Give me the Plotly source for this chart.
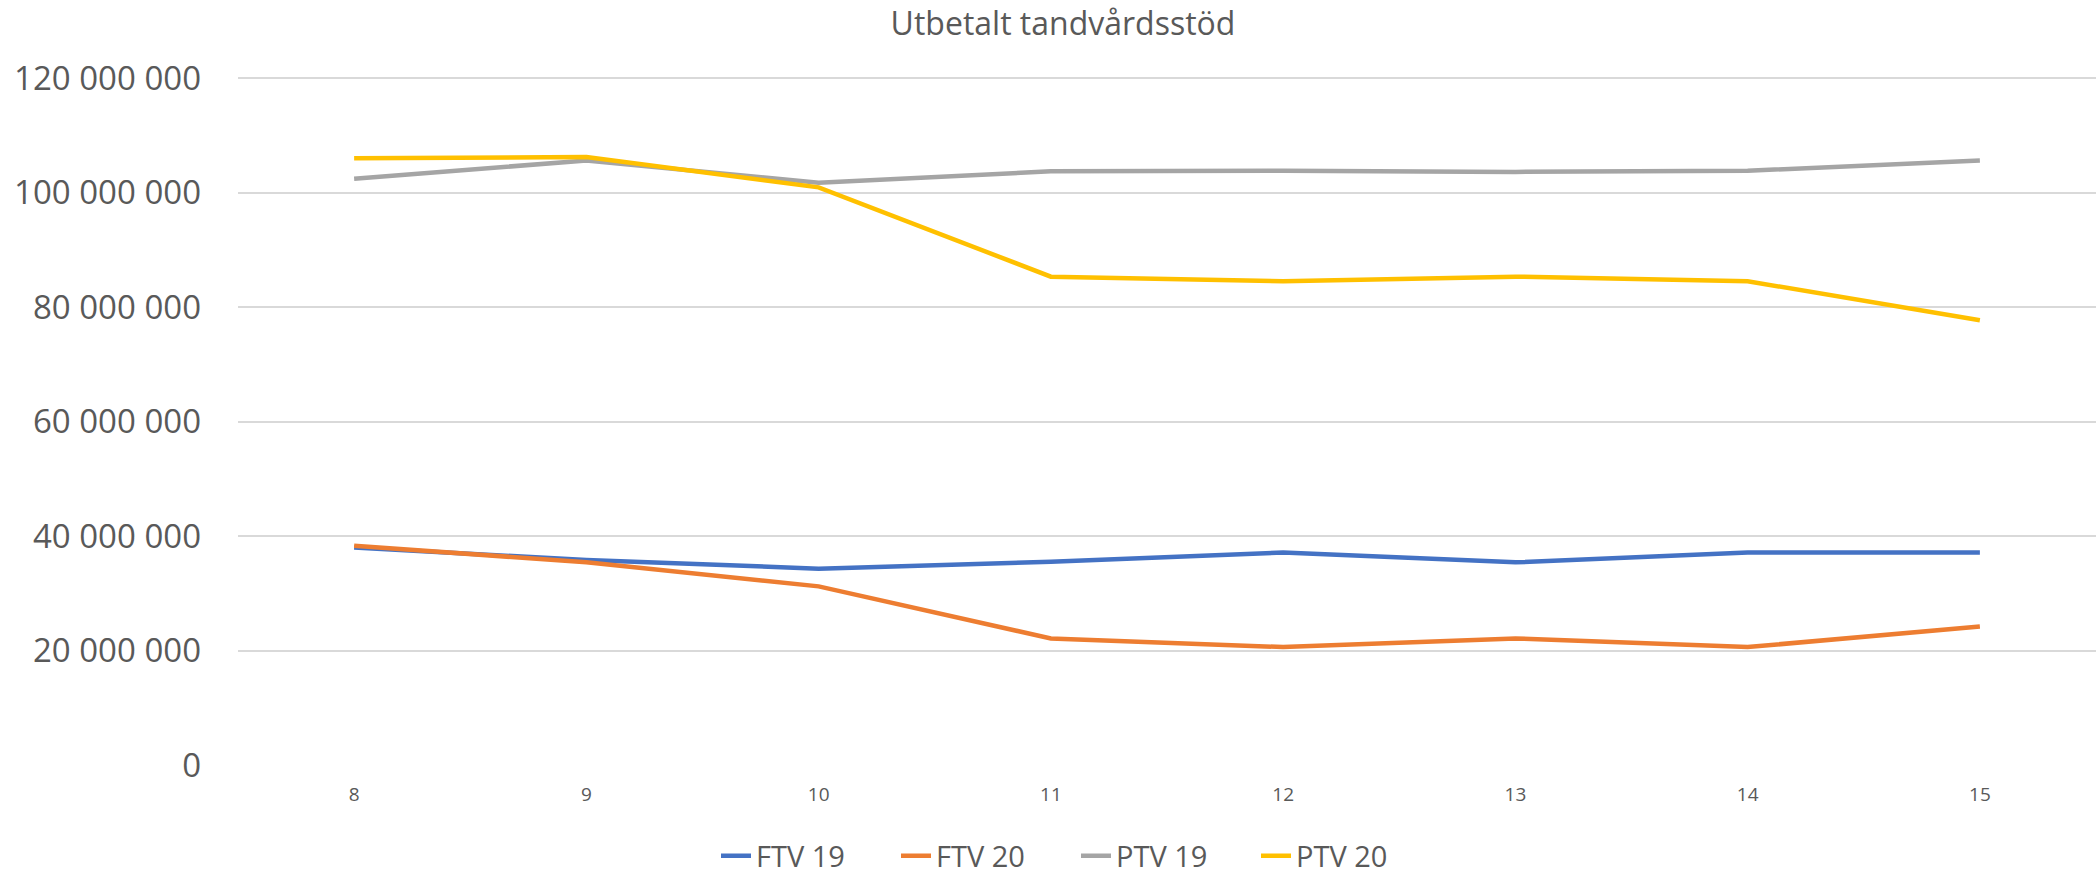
import plotly.graph_objects as go

weeks = ["8", "9", "10", "11", "12", "13", "14", "15"]
ftv19 = [38.0e6, 35.8e6, 34.3e6, 35.5e6, 37.1e6, 35.4e6, 37.1e6, 37.1e6]
ftv20 = [38.3e6, 35.4e6, 31.2e6, 22.1e6, 20.6e6, 22.1e6, 20.6e6, 24.2e6]
ptv19 = [102.4e6, 105.6e6, 101.7e6, 103.7e6, 103.8e6, 103.6e6, 103.8e6, 105.6e6]
ptv20 = [106.0e6, 106.2e6, 100.9e6, 85.3e6, 84.5e6, 85.3e6, 84.5e6, 77.7e6]
series_names = ["FTV 19", "FTV 20", "PTV 19", "PTV 20"]
colors = ["#4472C4", "#ED7D31", "#A5A5A5", "#FFC000"]
y_ticks = [0, 20e6, 40e6, 60e6, 80e6, 100e6, 120e6]
title_text = "Utbetalt tandvårdsstöd"

FONT = "Open Sans, Liberation Sans, sans-serif"
TXT = "#595959"

fig = go.Figure()
for name, vals, col in zip(series_names, [ftv19, ftv20, ptv19, ptv20], colors):
    fig.add_trace(go.Scatter(x=weeks, y=vals, name=name, mode="lines",
                             line=dict(color=col, width=4.5)))

fig.update_layout(
    width=2096, height=876,
    paper_bgcolor="white", plot_bgcolor="white",
    margin=dict(l=238, r=0, t=76, b=111),
    separators=", ",
    font=dict(family=FONT, color=TXT),
    title=dict(text=title_text, x=1063/2096, xref="container", xanchor="center",
               y=1-24/876, yref="container", yanchor="middle",
               font=dict(size=32, color=TXT, family=FONT)),
    legend=dict(orientation="h", xref="container", x=1076/2096, xanchor="center",
                yref="container", y=1-856/876, yanchor="middle",
                font=dict(size=29, color=TXT, family=FONT),
                entrywidth=135, itemwidth=30),
    showlegend=True,
)
fig.update_xaxes(type="category", range=[-0.5, 7.5], showgrid=False, zeroline=False,
                 showline=False, ticks="", tickfont=dict(size=19, color=TXT),
                 ticklabelstandoff=16)
fig.update_yaxes(range=[0, 120.35e6], tickvals=y_ticks, tickformat=",d",
                 showgrid=True, gridcolor="#D9D9D9", gridwidth=1.5, zeroline=False,
                 showline=False, ticks="", tickfont=dict(size=33, color=TXT),
                 ticklabelstandoff=36)

fig.write_html("out.html", config={"displayModeBar": False},
               post_script="document.body.style.margin='0';document.body.style.overflow='hidden';")
